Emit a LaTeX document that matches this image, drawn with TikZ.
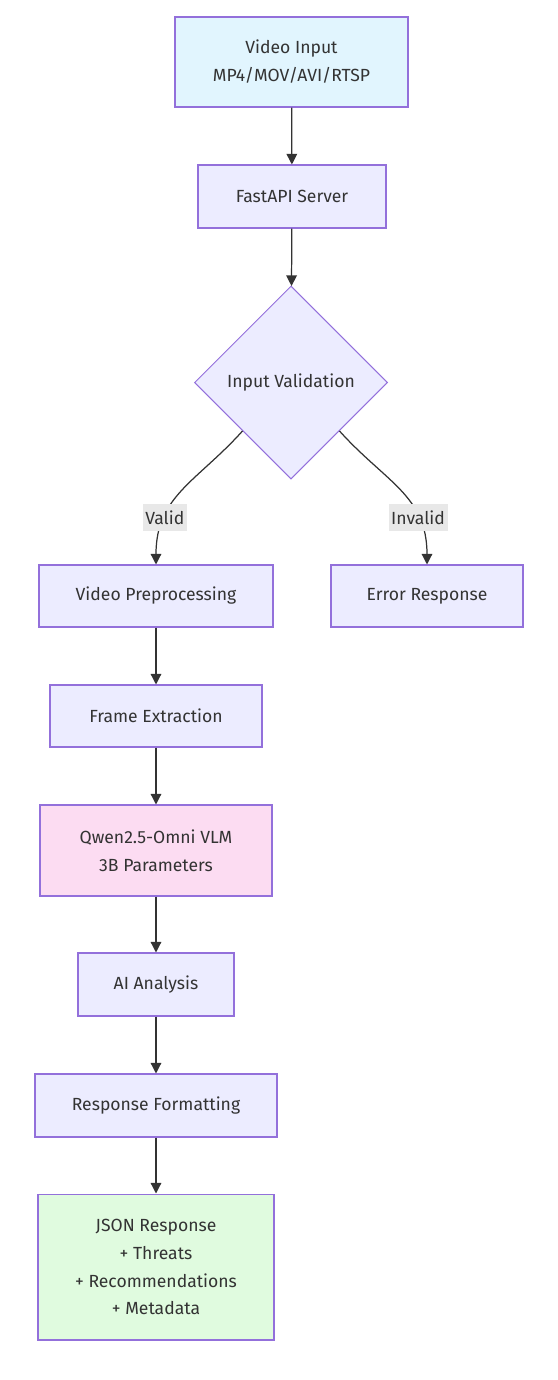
\documentclass[tikz,border=0pt]{standalone}
\usepackage{fontspec}
\setmainfont{Fira Sans}
\usepackage{tikz}
\usetikzlibrary{positioning,shapes.geometric,arrows.meta}

\definecolor{nodefill}{HTML}{ECECFF}
\definecolor{nodeline}{HTML}{9370DB}
\definecolor{inputfill}{HTML}{E1F5FE}
\definecolor{modelfill}{HTML}{FCDCF2}
\definecolor{outfill}{HTML}{E0FBDF}
\definecolor{edgecol}{HTML}{333333}
\definecolor{lblfill}{HTML}{E8E8E8}

\tikzset{
  box/.style={draw=nodeline, fill=nodefill, line width=0.6pt, minimum height=1.24cm,
    align=center, text=edgecol, inner sep=0pt},
  decide/.style={box, diamond, aspect=1, minimum size=3.86cm},
  flow/.style={draw=edgecol, line width=0.7pt, -{Triangle[length=6pt,width=6pt]}},
  lbl/.style={fill=lblfill, text=edgecol, inner sep=1.5pt, minimum height=0.54cm}
}

\begin{document}
\begin{tikzpicture}[x=0.02cm,y=-0.02cm,font=\fontsize{10}{15.9}\selectfont]
      \useasboundingbox (0,0) rectangle (558,1380);
      \node[box, fill=inputfill, minimum width=4.66cm, minimum height=1.8cm] (input) at (291.5,62) {Video Input\\MP4/MOV/AVI/RTSP};
      \node[box, minimum width=3.76cm, minimum height=1.26cm] (api) at (292,196.5) {FastAPI Server};
      \node[decide] (check) at (291,382.5) {Input Validation};
      \node[box, minimum width=4.68cm] (prep) at (156,596) {Video Preprocessing};
      \node[box, minimum width=3.84cm] (error) at (427,596) {Error Response};
      \node[box, minimum width=4.24cm] (frames) at (156,716) {Frame Extraction};
      \node[box, fill=modelfill, minimum width=4.64cm, minimum height=1.82cm] (vlm) at (156,850.5) {Qwen2.5-Omni VLM\\3B Parameters};
      \node[box, minimum width=3.12cm, minimum height=1.26cm] (analysis) at (156,984.5) {AI Analysis};
      \node[box, minimum width=4.84cm, minimum height=1.26cm] (format) at (156,1105.5) {Response Formatting};
      \node[box, fill=outfill, minimum width=4.72cm, minimum height=2.92cm] (json) at (156,1267) {JSON Response\\+ Threats\\+ Recommendations\\+ Metadata};

      \draw[flow] (input) -- (api);
      \draw[flow] (api) -- (check);
      \draw[flow] (check.south west) to[out=-132,in=90,looseness=1.1]
        node[lbl, pos=0.72] (valid) {Valid} (prep.north);
      \draw[flow] (check.south east) to[out=-48,in=90,looseness=1.1]
        node[lbl, pos=0.72] (invalid) {Invalid} (error.north);
      \draw[flow] (prep) -- (frames);
      \draw[flow] (frames) -- (vlm);
      \draw[flow] (vlm) -- (analysis);
      \draw[flow] (analysis) -- (format);
      \draw[flow] (format) -- (json);
    \end{tikzpicture}
\end{document}
